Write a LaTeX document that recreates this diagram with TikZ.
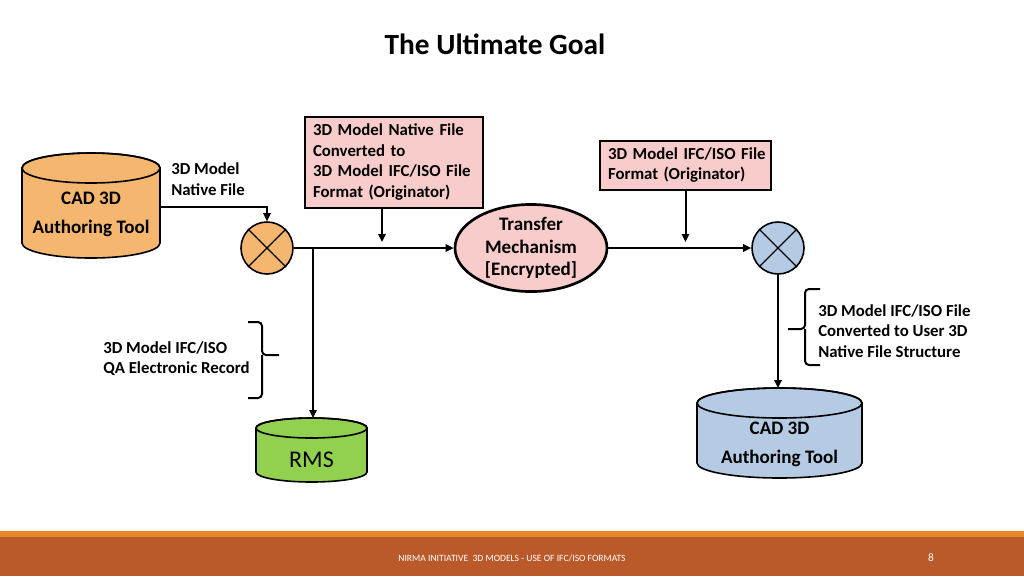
\documentclass[tikz,border=0pt]{standalone}
\usepackage{fontspec}
\setmainfont{Carlito}
\usetikzlibrary{shapes.geometric,arrows.meta}
\definecolor{corange}{HTML}{F5B76F}
\definecolor{cpink}{HTML}{F9CCCC}
\definecolor{cblue}{HTML}{B5CBE3}
\definecolor{cgreen}{HTML}{92D050}
\definecolor{footdark}{HTML}{BA5A2B}
\definecolor{footline}{HTML}{E8882B}
\newcommand\mycyl[6]{%
  \filldraw[fill=#6, line width=1.2pt] ({#1-#4},#2) -- ({#1-#4},#3)
    arc[start angle=180,end angle=0,x radius=#4,y radius=#5] -- ({#1+#4},#2)
    arc[start angle=0,end angle=-180,x radius=#4,y radius=#5] -- cycle;
  \draw[line width=1.2pt] (#1,#2) ellipse[x radius=#4, y radius=#5];
}
\newcommand\lefttab[1]{\begin{tabular}{@{}l@{}}#1\end{tabular}}
\begin{document}
\begin{tikzpicture}[x=0.75pt,y=-0.75pt,
  arr/.style={line width=1.5pt, -{Triangle[length=6pt,width=5.5pt]}},
  lbl/.style={font=\fontsize{12.6}{15.4}\selectfont\bfseries, align=left, inner sep=0pt},
  cyltext/.style={font=\fontsize{14.3}{21.75}\selectfont\bfseries, align=center, inner sep=0pt},
  pinkbox/.style={draw, line width=0.8pt, fill=cpink, font=\fontsize{12.6}{15.4}\selectfont\bfseries, align=left, inner xsep=6pt, inner ysep=0pt},
  mixer/.style={circle, draw, line width=1.2pt, minimum size=39pt, inner sep=0pt}
]
\useasboundingbox (0,0) rectangle (1024,576);

% title
\node[font=\fontsize{22}{26}\selectfont\bfseries] (title) at (495,44) {The Ultimate Goal};

% cylinders
\mycyl{91}{168}{243}{69}{15}{corange}
\node[cyltext] (cadA) at (91,214.5) {CAD 3D\\Authoring Tool};
\coordinate (cadAout) at (160,207);

\mycyl{311.5}{428}{472}{55.5}{10}{cgreen}
\node[font=\fontsize{18}{20}\selectfont, inner sep=0pt] (rms) at (311.5,460) {RMS};
\coordinate (rmsin) at (313,418);

\mycyl{779.5}{403}{463}{82.5}{15}{cblue}
\node[cyltext] (cadB) at (779.5,444.5) {CAD 3D\\Authoring Tool};
\coordinate (cadBin) at (778,388);

% mixers
\node[mixer, fill=corange] (mixA) at (267,248) {};
\draw[line width=1pt] (mixA.north west) -- (mixA.south east) (mixA.north east) -- (mixA.south west);
\node[mixer, fill=cblue] (mixB) at (778,248) {};
\draw[line width=1pt] (mixB.north west) -- (mixB.south east) (mixB.north east) -- (mixB.south west);

% transfer ellipse
\node[ellipse, draw, line width=2pt, fill=cpink, minimum width=114pt, minimum height=60pt, inner sep=0pt,
      font=\fontsize{14.3}{17}\selectfont\bfseries, align=center] (tm) at (531,248)
      {Transfer\\Mechanism\\{[Encrypted]}};

% pink boxes
\node[pinkbox, minimum width=133.5pt, minimum height=68.25pt, text width=121.5pt] (box1) at (394,162.5)
  {\lefttab{3D Model Native File\\Converted to\\3D Model IFC/ISO File\\Format (Originator)}};
\node[pinkbox, minimum width=128.25pt, minimum height=36.75pt, text width=116.25pt] (box2) at (685.5,165.5)
  {\lefttab{3D Model IFC/ISO File\\Format (Originator)}};

% labels
\node[lbl, anchor=west] (lblnative) at (171,179) {3D Model\\Native File};
\node[lbl, anchor=west] (lblqa) at (103,358.5) {3D Model IFC/ISO\\QA Electronic Record};
\node[lbl, anchor=west] (lblconv) at (818,331) {3D Model IFC/ISO File\\Converted to User 3D\\Native File Structure};

% connectors
\coordinate (br) at (313,248);
\coordinate (tip1) at (382,242);
\coordinate (tip2) at (685.5,242);
\draw[arr] (cadAout) -| (mixA.north);
\draw[arr] (mixA.east) -- (tm.west);
\draw[arr] (br) -- (rmsin);
\draw[arr] (tm.east) -- (mixB.west);
\draw[arr] (box1.south -| tip1) -- (tip1);
\draw[arr] (box2.south) -- (tip2);
\draw[arr] (mixB.south) -- (cadBin);

% braces
\draw[line width=1.5pt, rounded corners=3pt] (248,322) -- (262,322) -- (262,355) -- (279,355);
\draw[line width=1.5pt, rounded corners=3pt] (248,398) -- (262,398) -- (262,355);
\draw[line width=1.5pt, rounded corners=3pt] (820,289) -- (805,289) -- (805,329) -- (788,329);
\draw[line width=1.5pt, rounded corners=3pt] (820,365) -- (805,365) -- (805,329);

% footer
\fill[footline] (0,531) rectangle (1024,537);
\fill[footdark] (0,537) rectangle (1024,576);
\node[text=white, font=\fontsize{7.2}{8}\selectfont, inner sep=0pt] (foot) at (512,558) {NIRMA INITIATIVE\ \ 3D MODELS - USE OF IFC/ISO FORMATS};
\node[text=white, font=\fontsize{8.5}{9}\selectfont, inner sep=0pt] (pageno) at (931,558) {8};
\end{tikzpicture}
\end{document}
